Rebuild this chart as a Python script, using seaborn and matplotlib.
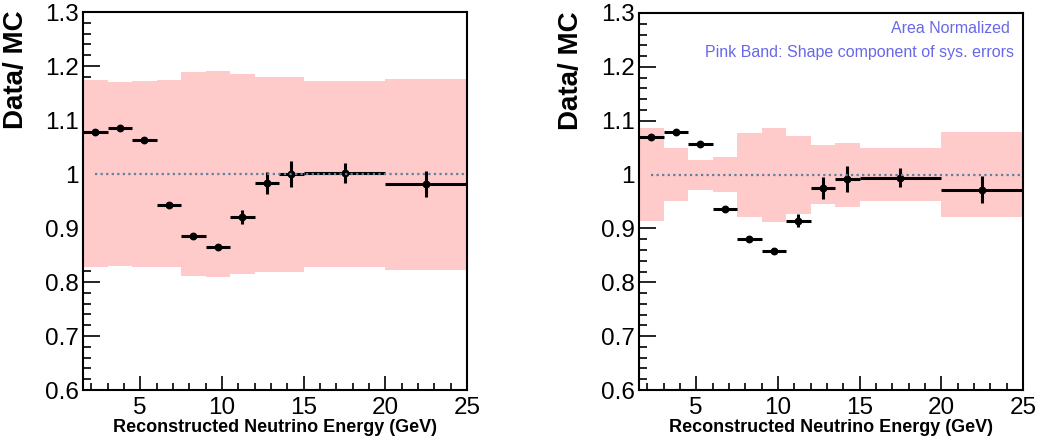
import numpy as np
import pandas as pd
import seaborn as sns
import matplotlib.pyplot as plt
from matplotlib.ticker import MultipleLocator, FuncFormatter

# bin edges (GeV)
edges = [1.5, 3, 4.5, 6, 7.5, 9, 10.5, 12, 13.5, 15, 20, 25]

# left panel: Data/MC ratio with total sys band
left_ratio = [1.078, 1.086, 1.063, 0.942, 0.886, 0.865, 0.920, 0.983, 1.000, 1.002, 0.981]
left_err = [0.006, 0.003, 0.003, 0.003, 0.003, 0.005, 0.013, 0.020, 0.024, 0.018, 0.024]
left_band_hi = [1.174, 1.171, 1.173, 1.174, 1.189, 1.191, 1.185, 1.179, 1.179, 1.173, 1.176]
left_band_lo = [0.827, 0.830, 0.828, 0.827, 0.811, 0.809, 0.814, 0.819, 0.819, 0.827, 0.823]

# right panel: area normalized, shape-only band
right_ratio = [1.070, 1.079, 1.056, 0.936, 0.880, 0.859, 0.914, 0.975, 0.992, 0.994, 0.972]
right_err = [0.006, 0.003, 0.003, 0.003, 0.003, 0.005, 0.012, 0.020, 0.024, 0.018, 0.025]
right_band_hi = [1.087, 1.049, 1.027, 1.032, 1.077, 1.086, 1.072, 1.054, 1.058, 1.050, 1.079]
right_band_lo = [0.913, 0.951, 0.972, 0.967, 0.922, 0.912, 0.927, 0.945, 0.940, 0.950, 0.921]

sns.set_theme(style="ticks")
plt.rcParams['font.family'] = ['Liberation Sans', 'DejaVu Sans']
plt.rcParams['text.color'] = 'black'
plt.rcParams['axes.labelcolor'] = 'black'
plt.rcParams['xtick.labelcolor'] = 'black'
plt.rcParams['ytick.labelcolor'] = 'black'

fig = plt.figure(figsize=(10.38, 4.41), dpi=100)
ax1 = fig.add_axes([0.080, 0.1156, 0.370, 0.857])
ax2 = fig.add_axes([0.6156, 0.1156, 0.370, 0.855])


def fmt(v, pos):
    s = '%.1f' % v
    return '1' if s == '1.0' else s


def draw(ax, ratio, err, hi, lo):
    e = np.array(edges)
    centers = (e[:-1] + e[1:]) / 2
    half = (e[1:] - e[:-1]) / 2
    df = pd.DataFrame({'E': centers, 'ratio': ratio, 'err': err, 'hw': half})

    ax.stairs(hi, edges, baseline=lo, fill=True, color='#ffcaca', lw=0, zorder=1)
    ax.errorbar(df['E'], df['ratio'], xerr=df['hw'], yerr=df['err'], fmt='none',
                ecolor='black', elinewidth=2.2, capsize=0, zorder=3)
    sns.scatterplot(data=df, x='E', y='ratio', ax=ax, color='black', s=32,
                    edgecolor='black', linewidth=0, zorder=4, legend=False)
    ax.plot([centers[0], 25], [1, 1], ls=(0, (1, 1.5)), color='#5f7f9f', lw=1.6, zorder=5)

    ax.set_xlim(1.5, 25)
    ax.set_ylim(0.6, 1.3)
    ax.xaxis.set_major_locator(MultipleLocator(5))
    ax.xaxis.set_minor_locator(MultipleLocator(1))
    ax.yaxis.set_major_locator(MultipleLocator(0.1))
    ax.yaxis.set_minor_locator(MultipleLocator(0.02))
    ax.yaxis.set_major_formatter(FuncFormatter(fmt))
    ax.tick_params(axis='both', which='both', direction='in', top=False, right=False,
                   color='black', width=1.2)
    ax.tick_params(axis='y', which='major', length=12, labelsize=17.5, pad=3)
    ax.tick_params(axis='y', which='minor', length=6)
    ax.tick_params(axis='x', which='major', length=10, labelsize=17.5, pad=5)
    ax.tick_params(axis='x', which='minor', length=5)
    for sp in ax.spines.values():
        sp.set_visible(True)
        sp.set_color('black')
        sp.set_linewidth(1.5)
    ax.set_xlabel('Reconstructed Neutrino Energy (GeV)', fontsize=13,
                  fontweight='bold', labelpad=0)
    ax.set_ylabel('Data/ MC', fontsize=20, fontweight='bold')
    ax.yaxis.set_label_coords(-0.142, 0.847)
    ax.set_facecolor('white')


draw(ax1, left_ratio, left_err, left_band_hi, left_band_lo)
draw(ax2, right_ratio, right_err, right_band_hi, right_band_lo)

ax2.text(0.966, 0.958, 'Area Normalized', transform=ax2.transAxes, ha='right',
         va='center', color='#6868e8', fontsize=11.5)
ax2.text(0.977, 0.894, 'Pink Band: Shape component of sys. errors',
         transform=ax2.transAxes, ha='right', va='center', color='#6868e8', fontsize=11.5)

fig.savefig('out.png', dpi=100)
